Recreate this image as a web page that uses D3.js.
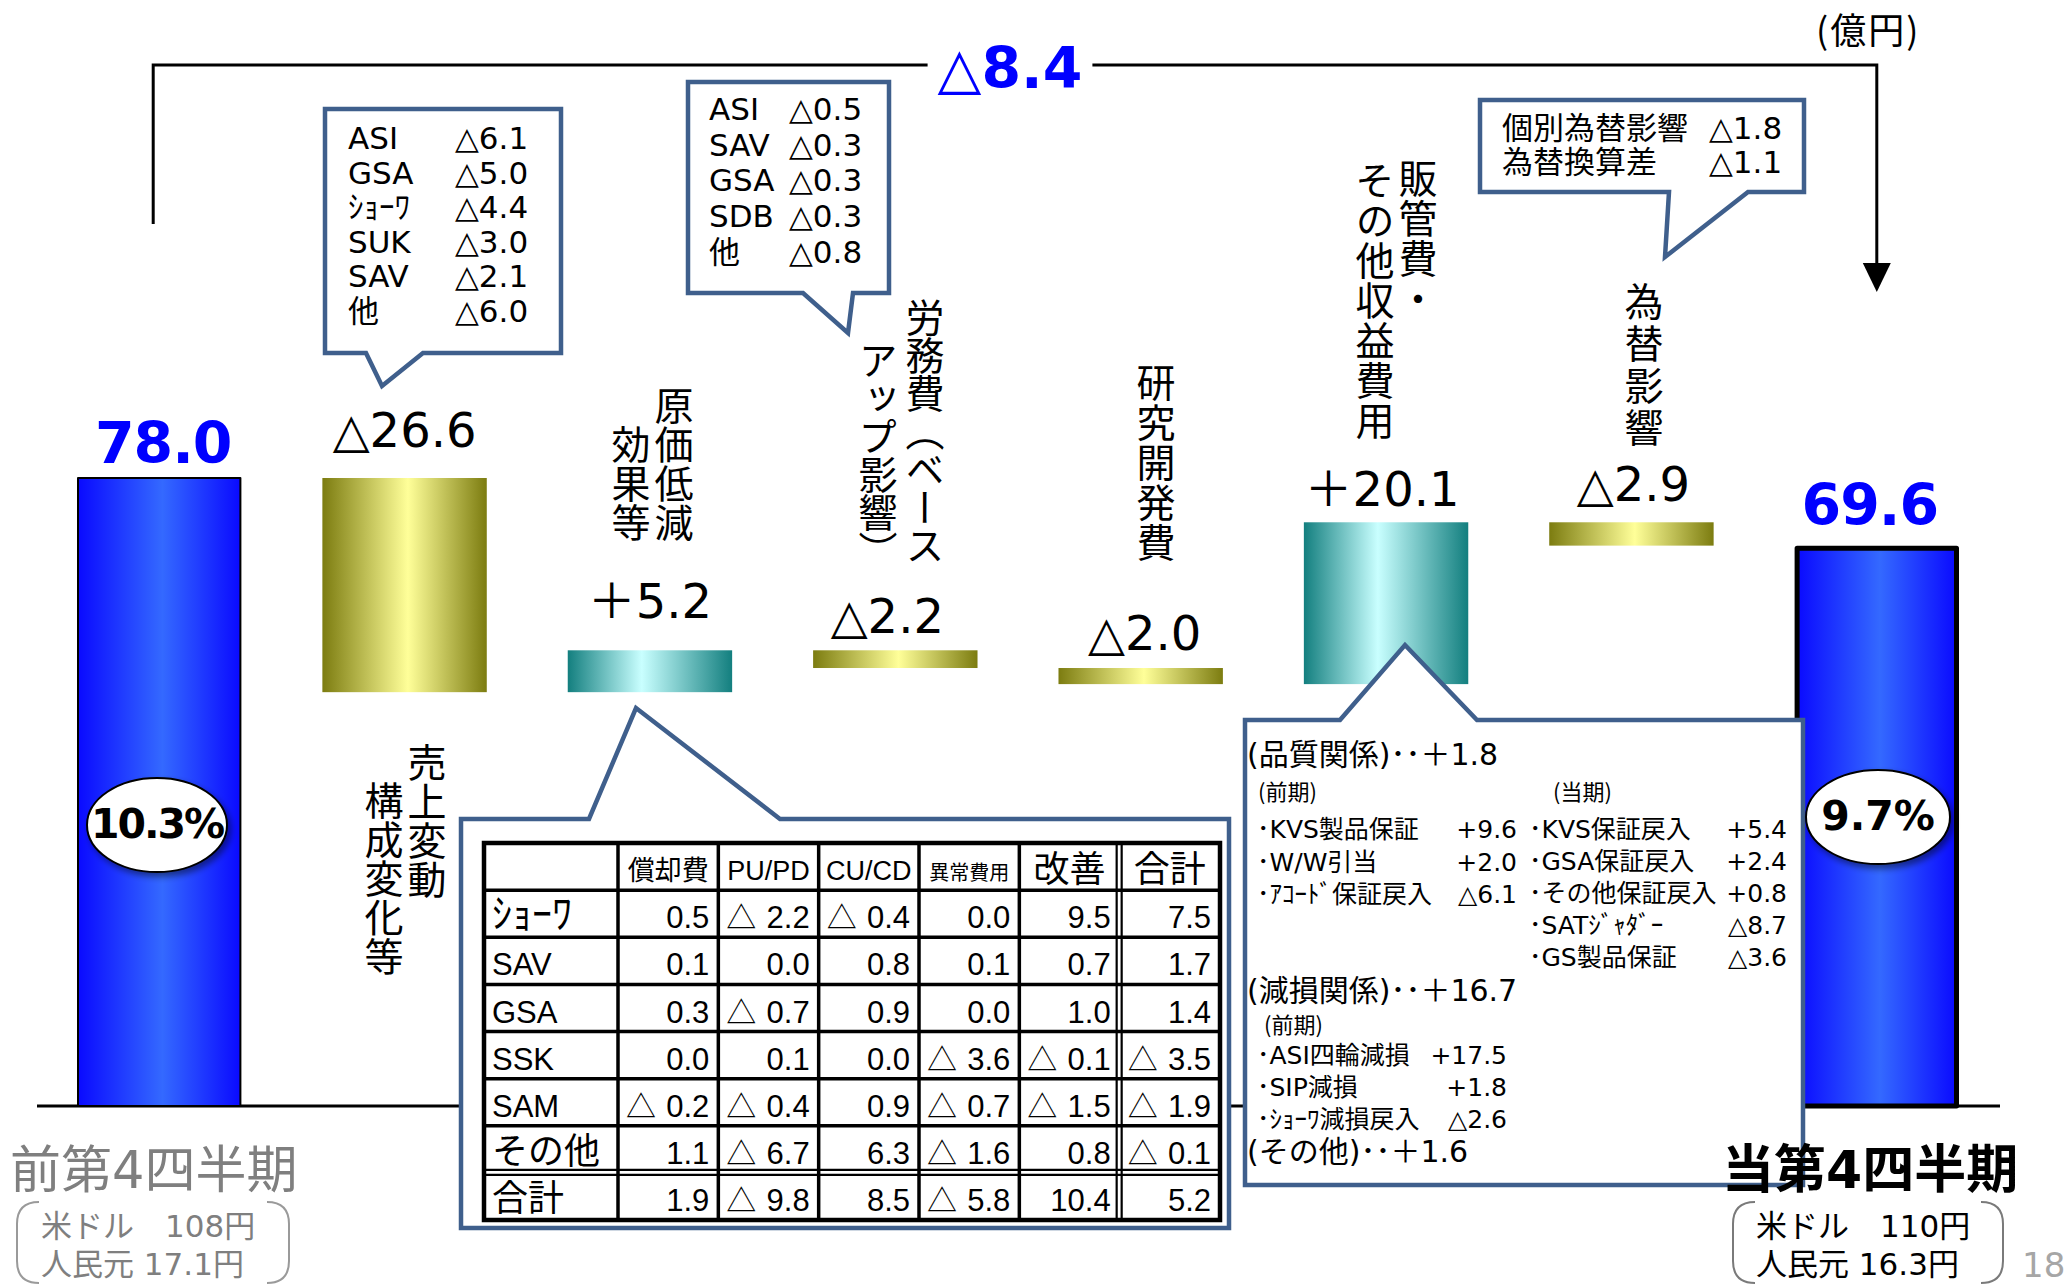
<!DOCTYPE html>
<html lang="ja">
<head>
<meta charset="utf-8">
<title>営業利益 増減要因（第4四半期）</title>
<script src="https://cdn.jsdelivr.net/npm/d3@7"></script>
<style>
  html, body { margin: 0; padding: 0; background: #fff; }
  svg { display: block; }
</style>
</head>
<body>
<div id="chart"></div>
<script>
// ---- data (億円) -----------------------------------------------------------
const steps = ["前第4四半期", "売上変動構成変化等", "原価低減効果等", "労務費（ベースアップ影響）",
  "研究開発費", "販管費・その他収益費用", "為替影響", "当第4四半期"];
const stepKinds = ["total", "delta", "delta", "delta", "delta", "delta", "delta", "total"];
const stepValues = [78.0, -26.6, 5.2, -2.2, -2.0, 20.1, -2.9, 69.6];
const margins = [10.3, 9.7];                 // 前期 / 当期 の %
const fxNames = ["米ドル", "人民元"];
const fxPrev = [108, 17.1];
const fxCurr = [110, 16.3];

// callout breakdowns
const salesMixNames = ["ASI", "GSA", "ｼｮｰﾜ", "SUK", "SAV", "他"];
const salesMixValues = [-6.1, -5.0, -4.4, -3.0, -2.1, -6.0];
const laborNames = ["ASI", "SAV", "GSA", "SDB", "他"];
const laborValues = [-0.5, -0.3, -0.3, -0.3, -0.8];
const fxEffectNames = ["個別為替影響", "為替換算差"];
const fxEffectValues = [-1.8, -1.1];

// cost reduction table
const tableCols = ["償却費", "PU/PD", "CU/CD", "異常費用", "改善", "合計"];
const tableRows = ["ｼｮｰﾜ", "SAV", "GSA", "SSK", "SAM", "その他", "合計"];
const tableValues = [
  [0.5, -2.2, -0.4, 0.0, 9.5, 7.5],
  [0.1, 0.0, 0.8, 0.1, 0.7, 1.7],
  [0.3, -0.7, 0.9, 0.0, 1.0, 1.4],
  [0.0, 0.1, 0.0, -3.6, -0.1, -3.5],
  [-0.2, -0.4, 0.9, -0.7, -1.5, -1.9],
  [1.1, -6.7, 6.3, -1.6, 0.8, -0.1],
  [1.9, -9.8, 8.5, -5.8, 10.4, 5.2]
];

// SG&A breakdown
const qualityPrevNames = ["KVS製品保証", "W/W引当", "ｱｺｰﾄﾞ保証戻入"];
const qualityPrevValues = [9.6, 2.0, -6.1];
const qualityCurrNames = ["KVS保証戻入", "GSA保証戻入", "その他保証戻入", "SATｼﾞｬﾀﾞｰ", "GS製品保証"];
const qualityCurrValues = [5.4, 2.4, 0.8, -8.7, -3.6];
const impairPrevNames = ["ASI四輪減損", "SIP減損", "ｼｮｰﾜ減損戻入"];
const impairPrevValues = [17.5, 1.8, -2.6];
const otherSga = 1.6;

// ---- look ----------------------------------------------------------------
const W = 2072, H = 1285;
const LAT = "'DejaVu Sans', 'Noto Sans CJK JP', sans-serif";
const JP = "'Noto Sans CJK JP', sans-serif";
const TBL = "'Liberation Sans', 'Noto Sans CJK JP', sans-serif";
const CALL = "#3f5f8c";
const BLUE = "#0000ff";

const fmtTri = (v) => (v < 0 ? "△" : "＋") + Math.abs(v).toFixed(1);
const fmtItem = (v) => (v < 0 ? "△" : "+") + Math.abs(v).toFixed(1);

// waterfall running totals
let run = 0;
const bars = steps.map((s, i) => {
  const v = stepValues[i];
  let lo, hi;
  if (stepKinds[i] === "total") { lo = 0; hi = v; run = v; }
  else { lo = Math.min(run, run + v); hi = Math.max(run, run + v); run += v; }
  return { step: s, kind: stepKinds[i], v, lo, hi, i };
});

const x = d3.scaleBand().domain(steps).range([77, 1959]).paddingInner(0.33).paddingOuter(0);
const y = d3.scaleLinear().domain([0, 78]).range([1106, 478]);
const cx = (s) => x(s) + x.bandwidth() / 2;

const svg = d3.select("#chart").append("svg")
  .attr("width", W).attr("height", H).attr("viewBox", `0 0 ${W} ${H}`);
svg.append("rect").attr("width", W).attr("height", H).attr("fill", "#fff");

// ---- defs: bar gradients + shadow -----------------------------------------
const defs = svg.append("defs");
function grad(id, dark, light, mid) {
  const g = defs.append("linearGradient").attr("id", id)
    .attr("x1", 0).attr("x2", 1).attr("y1", 0).attr("y2", 0);
  [[0, dark], [mid, light], [1, dark]].forEach(([o, c]) =>
    g.append("stop").attr("offset", o).attr("stop-color", c));
}
grad("gBlue", "#0a0aff", "#3469ff", 0.52);
grad("gGold", "#7c7c10", "#ffff99", 0.52);
grad("gTeal", "#137f7f", "#c9ffff", 0.45);
defs.append("filter").attr("id", "shadow").attr("x", -0.2).attr("y", -0.2).attr("width", 1.5).attr("height", 1.6)
  .append("feDropShadow").attr("dx", 3).attr("dy", 4).attr("stdDeviation", 3)
  .attr("flood-color", "#000").attr("flood-opacity", 0.45);

// ---- total bracket (△8.4) -------------------------------------------------
const bracketY = 65;
const leftX = cx(steps[0]) - 6, rightX = cx(steps[7]);
const change = stepValues[7] - stepValues[0];
const chgText = svg.append("text")
  .attr("x", 1010).attr("y", 88).attr("text-anchor", "middle")
  .attr("fill", BLUE).style("font", `bold 57px ${LAT}`)
  .text(fmtTri(change));
const tw = chgText.node().getComputedTextLength();
svg.append("path")
  .attr("d", `M${leftX},224V${bracketY}H${1010 - tw / 2 - 10}`)
  .attr("fill", "none").attr("stroke", "#000").attr("stroke-width", 3);
svg.append("path")
  .attr("d", `M${1010 + tw / 2 + 10},${bracketY}H${rightX}V266`)
  .attr("fill", "none").attr("stroke", "#000").attr("stroke-width", 3);
svg.append("path")
  .attr("d", `M${rightX - 14},263L${rightX + 14},263L${rightX},292Z`).attr("fill", "#000");

svg.append("text").attr("x", 1816).attr("y", 44)
  .style("font", `36px ${JP}`).attr("letter-spacing", 2).text("(億円)");

// ---- baseline + bars ---------------------------------------------------------
svg.append("line").attr("x1", 37).attr("x2", 2000).attr("y1", y(0)).attr("y2", y(0))
  .attr("stroke", "#000").attr("stroke-width", 3);

const fillOf = (d) => d.kind === "total" ? "url(#gBlue)" : d.v < 0 ? "url(#gGold)" : "url(#gTeal)";
svg.append("g").selectAll("rect").data(bars).join("rect")
  .attr("x", (d) => x(d.step) + (d.kind === "total" ? (d.i === 0 ? 1 : 2.5) : 0))
  .attr("width", (d) => x.bandwidth() - (d.kind === "total" ? (d.i === 0 ? 2 : 5) : 0))
  .attr("y", (d) => y(d.hi) + (d.i === 7 ? 2.5 : 0))
  .attr("height", (d) => y(d.lo) - y(d.hi) - (d.i === 7 ? 2.5 : 0))
  .attr("fill", fillOf)
  .attr("stroke", (d) => d.kind === "total" ? "#000" : "none")
  .attr("stroke-width", (d) => d.i === 0 ? 2 : 5)
  .attr("stroke-linejoin", "round");

// value labels: nudges from the bar centre / bar top
const labelDx = [4, 0, 0, -8, 4, -4, 2, -7];
const labelGap = [15, 31, 32, 17, 18, 16, 21, 21];
svg.append("g").selectAll("text").data(bars).join("text")
  .attr("x", (d) => cx(d.step) + labelDx[d.i])
  .attr("y", (d) => y(d.hi) - labelGap[d.i])
  .attr("text-anchor", "middle")
  .attr("fill", (d) => d.kind === "total" ? BLUE : "#000")
  .attr("letter-spacing", (d) => d.kind === "total" ? -1 : 0)
  .style("font", (d) => d.kind === "total" ? `bold 57px ${LAT}` : `48px ${LAT}`)
  .text((d) => d.kind === "total" ? d.v.toFixed(1) : fmtTri(d.v));

// vertical category labels: brk = where the text wraps into a 2nd column
const vLabels = [
  { i: 1, brk: 4, x: [427, 384], top: [745, 783], ls: 0 },
  { i: 2, brk: 4, x: [674, 631], top: [388, 427], ls: 0 },
  { i: 3, brk: 7, x: [925, 878], top: [300, 343], ls: -1 },
  { i: 4, brk: 0, x: [1156], top: [365], ls: 1 },
  { i: 5, brk: 4, x: [1418, 1375], top: [161, 163], ls: 1 },
  { i: 6, brk: 0, x: [1644], top: [284], ls: 3 }
];
vLabels.forEach((L) => {
  const s = steps[L.i];
  const cols = L.brk ? [s.slice(0, L.brk), s.slice(L.brk)] : [s];
  cols.forEach((c, k) => {
    svg.append("text")
      .attr("x", L.x[k]).attr("y", L.top[k] - 2)
      .style("writing-mode", "vertical-rl")
      .style("font", `39px ${JP}`)
      .attr("letter-spacing", L.ls)
      .text(c);
  });
});

// ---- callouts --------------------------------------------------------------
function callout(box, side, a, b, tip) {
  const [x0, y0, x1, y1] = box;
  const d = side === "bottom"
    ? `M${x0},${y0}H${x1}V${y1}H${b}L${tip[0]},${tip[1]}L${a},${y1}H${x0}Z`
    : `M${x0},${y0}H${a}L${tip[0]},${tip[1]}L${b},${y0}H${x1}V${y1}H${x0}Z`;
  svg.append("path").attr("d", d).attr("fill", "#fff")
    .attr("stroke", CALL).attr("stroke-width", 4.5).attr("stroke-linejoin", "miter");
}
function listText(names, values, lx, vx, y0, dy, size) {
  const g = svg.append("g").style("font", `${size}px ${LAT}`);
  names.forEach((n, k) => {
    g.append("text").attr("x", lx).attr("y", y0 + k * dy).text(n);
    g.append("text").attr("x", vx).attr("y", y0 + k * dy).text(fmtItem(values[k]));
  });
}

// 売上変動 breakdown
callout([325, 109, 561, 353], "bottom", 366, 423, [382, 386]);
listText(salesMixNames, salesMixValues, 348, 455, 149, 34.6, 31);
// 労務費 breakdown
callout([688, 82, 889, 293], "bottom", 803, 853, [848, 333]);
listText(laborNames, laborValues, 709, 789, 120, 35.7, 31);
// 為替 breakdown
callout([1480, 100, 1804, 192], "bottom", 1669, 1748, [1665, 257]);
listText(fxEffectNames, fxEffectValues, 1502, 1709, 139, 34, 31);

// 原価低減 table
callout([461, 819, 1229, 1228], "top", 589, 780, [636, 708]);
const tX0 = 484, tX1 = 1220, tY0 = 843, tY1 = 1220;
const firstW = 134;
const colW = (tX1 - tX0 - firstW) / tableCols.length;
const rowH = (tY1 - tY0) / (tableRows.length + 1);
const colL = (j) => tX0 + firstW + j * colW;
const rowT = (r) => tY0 + r * rowH;
const tg = svg.append("g");
// grid
d3.range(1, tableRows.length + 1).forEach((r) => {
  const yy = rowT(r);
  if (r === tableRows.length) {
    [-3, 2].forEach((o) => tg.append("line").attr("x1", tX0).attr("x2", tX1).attr("y1", yy + o).attr("y2", yy + o)
      .attr("stroke", "#000").attr("stroke-width", 2.2));
  } else {
    tg.append("line").attr("x1", tX0).attr("x2", tX1).attr("y1", yy).attr("y2", yy)
      .attr("stroke", "#000").attr("stroke-width", 3.5);
  }
});
d3.range(0, tableCols.length).forEach((j) => {
  const xx = colL(j);
  if (j === tableCols.length - 1) {
    [-3, 2].forEach((o) => tg.append("line").attr("x1", xx + o).attr("x2", xx + o).attr("y1", tY0).attr("y2", tY1)
      .attr("stroke", "#000").attr("stroke-width", 2.2));
  } else {
    tg.append("line").attr("x1", xx).attr("x2", xx).attr("y1", tY0).attr("y2", tY1)
      .attr("stroke", "#000").attr("stroke-width", 3.5);
  }
});
tg.append("rect").attr("x", tX0).attr("y", tY0).attr("width", tX1 - tX0).attr("height", tY1 - tY0)
  .attr("fill", "none").attr("stroke", "#000").attr("stroke-width", 4.5);
// header
tableCols.forEach((c, j) => {
  const size = c.length === 4 ? 20 : c.length === 2 ? 36 : 27;
  tg.append("text").attr("x", colL(j) + colW / 2).attr("y", rowT(1) - (size > 30 ? 8 : 10))
    .attr("text-anchor", "middle").style("font", `${size}px ${/^[A-Z]/.test(c) ? TBL : JP}`).text(c);
});
// rows (half-width kana set larger, as in the slide)
tableRows.forEach((r, i) => {
  const base = rowT(i + 2) - 9;
  const rowFont = /^[A-Z]/.test(r) ? `31px ${TBL}` : /^[\uFF61-\uFF9F]/.test(r) ? `40px ${JP}` : `36px ${JP}`;
  tg.append("text").attr("x", tX0 + 8).attr("y", base).style("font", rowFont).text(r);
  tableValues[i].forEach((v, j) => {
    if (v < 0) {
      tg.append("text").attr("x", colL(j) + 8).attr("y", base).style("font", `30px ${JP}`).text("△");
    }
    tg.append("text").attr("x", colL(j + 1) - 9).attr("y", base).attr("text-anchor", "end")
      .style("font", `31px ${TBL}`).text(Math.abs(v).toFixed(1));
  });
});

// 販管費 breakdown
callout([1245, 720, 1803, 1185], "top", 1340, 1477, [1405, 645]);
const sg = svg.append("g");
const head = (t, yy) => sg.append("text").attr("x", 1247).attr("y", yy).style("font", `30px ${LAT}`).text(t);
const small = (t, xx, yy) => sg.append("text").attr("x", xx).attr("y", yy).style("font", `22px ${JP}`).text(t);
function items(names, values, lx, vr, y0, dy) {
  names.forEach((n, k) => {
    sg.append("text").attr("x", lx).attr("y", y0 + k * dy).style("font", `25px ${LAT}`).text("･" + n);
    sg.append("text").attr("x", vr).attr("y", y0 + k * dy).attr("text-anchor", "end")
      .style("font", `25px ${LAT}`).text(fmtItem(values[k]));
  });
}
const quality = d3.sum(qualityPrevValues) + d3.sum(qualityCurrValues);
const impair = d3.sum(impairPrevValues);
head(`(品質関係)･･${fmtTri(quality)}`, 765);
small("(前期)", 1258, 800);
small("(当期)", 1553, 800);
items(qualityPrevNames, qualityPrevValues, 1257, 1517, 838, 32.5);
items(qualityCurrNames, qualityCurrValues, 1529, 1787, 838, 32);
head(`(減損関係)･･${fmtTri(impair)}`, 1001);
small("(前期)", 1264, 1033);
items(impairPrevNames, impairPrevValues, 1257, 1507, 1064, 32);
head(`(その他)･･${fmtTri(otherSga)}`, 1162);

// ---- margin ellipses ---------------------------------------------------------
[[157, 825, 70], [1878, 817, 72]].forEach(([ex, ey, rx], k) => {
  svg.append("ellipse").attr("cx", ex).attr("cy", ey).attr("rx", rx).attr("ry", 47)
    .attr("fill", "#fff").attr("stroke", "#000").attr("stroke-width", 2).attr("filter", "url(#shadow)");
  svg.append("text").attr("x", ex).attr("y", ey + 13).attr("text-anchor", "middle")
    .attr("letter-spacing", k === 0 ? -2 : 0)
    .style("font", `bold 41px ${LAT}`).text(margins[k].toFixed(1) + "%");
});

// ---- period labels + fx rates -------------------------------------------------
function bracketBox(x0, y0, x1, y1, color) {
  const r = 22;
  svg.append("path")
    .attr("d", `M${x0 + r},${y0}Q${x0},${y0} ${x0},${y0 + r}V${y1 - r}Q${x0},${y1} ${x0 + r},${y1}` +
      `M${x1 - r},${y0}Q${x1},${y0} ${x1},${y0 + r}V${y1 - r}Q${x1},${y1} ${x1 - r},${y1}`)
    .attr("fill", "none").attr("stroke", color).attr("stroke-width", 2);
}
svg.append("text").attr("x", 10).attr("y", 1188).attr("fill", "#7f7f7f")
  .style("font", `51px ${LAT}`).text(steps[0]);
bracketBox(17, 1202, 289, 1283, "#9a9a9a");
bracketBox(1733, 1202, 2003, 1283, "#7a7a7a");
[fxPrev, fxCurr].forEach((fx, k) => {
  const t = svg.append("text").attr("fill", k === 0 ? "#7f7f7f" : "#000")
    .style("font", `31px ${LAT}`);
  const gx = k === 0 ? 41 : 1756;
  t.append("tspan").attr("x", gx).attr("y", 1237).text(`${fxNames[0]}　${fx[0]}円`);
  t.append("tspan").attr("x", gx).attr("y", 1275).text(`${fxNames[1]} ${fx[1].toFixed(1)}円`);
});
svg.append("text").attr("x", 1722).attr("y", 1188).attr("fill", "#000")
  .style("font", `bold 52px ${LAT}`).text(steps[7]);

svg.append("text").attr("x", 2022).attr("y", 1277).attr("fill", "#a6a6a6")
  .style("font", `34px ${LAT}`).text("18");
</script>
</body>
</html>
